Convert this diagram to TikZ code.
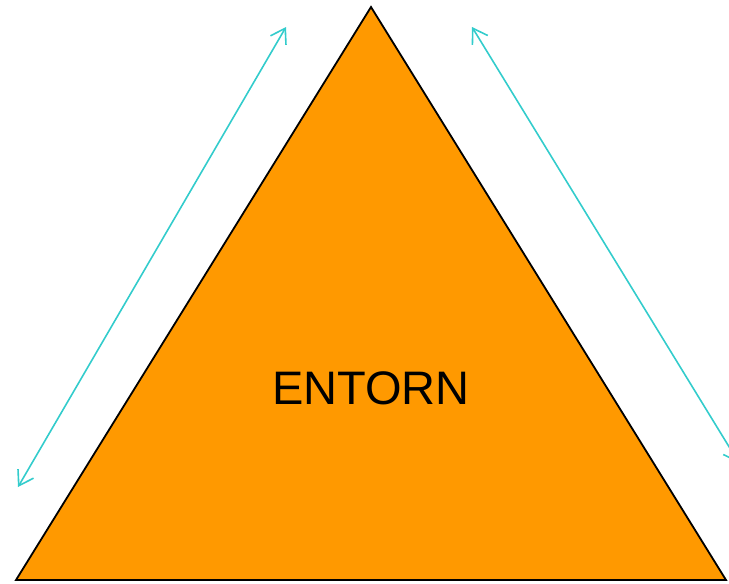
\documentclass[tikz,border=0pt]{standalone}
\usepackage{fontspec}
\setmainfont{Liberation Sans}
\usetikzlibrary{arrows.meta}
\definecolor{tri}{HTML}{FF9900}
\definecolor{teal2}{HTML}{33CCCC}
\tikzset{
  dimarrow/.style={draw=teal2, line width=1.6pt, {Straight Barb[length=14pt,width=18pt]}-{Straight Barb[length=14pt,width=18pt]}},
  label/.style={font=\fontsize{47}{56}\selectfont, text=black}
}
\begin{document}
\begin{tikzpicture}[x=1pt,y=-1pt]
\useasboundingbox (0,0) rectangle (729,584);
\begin{scope}
\clip (0,0) rectangle (729,584);
\coordinate (A) at (371,7);
\coordinate (B) at (16,580);
\coordinate (C) at (726,580);
\draw[fill=tri, line width=1.8pt, line join=miter] (A) -- (B) -- (C) -- cycle;
\node[label] (t) at (371,388) {ENTORN};
\coordinate (l1) at (18,487);
\coordinate (l2) at (286,27);
\coordinate (r1) at (472,27);
\coordinate (r2) at (739,463);
\draw[dimarrow] (l1) -- (l2);
\draw[dimarrow] (r1) -- (r2);
\end{scope}
\end{tikzpicture}
\end{document}
